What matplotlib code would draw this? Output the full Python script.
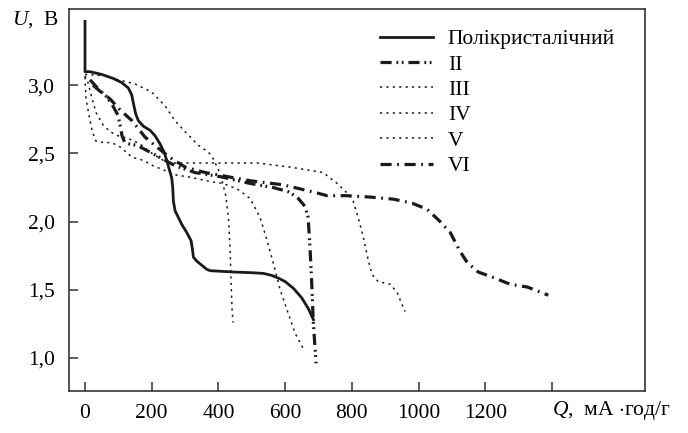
import matplotlib
matplotlib.use("Agg")
import matplotlib.pyplot as plt
from matplotlib.ticker import FixedLocator, FixedFormatter

plt.rcParams['font.family'] = ['Liberation Serif', 'DejaVu Serif']
plt.rcParams['mathtext.fontset'] = 'custom'
plt.rcParams['mathtext.it'] = 'Liberation Serif:italic'
plt.rcParams['mathtext.rm'] = 'Liberation Serif'
plt.rcParams['lines.scale_dashes'] = False

# ---- data (Q in mA*h/g, U in V) ----
poly_q = [0, 0, 15, 50, 85, 110, 130, 140, 145, 152, 160, 175, 195, 210, 225, 237, 245, 253, 260, 263, 265,
          270, 280, 290, 305, 318, 322, 325, 335, 350, 365, 375, 445, 500, 535, 560, 580, 600, 625, 650, 670, 685]
poly_u = [3.47, 3.10, 3.10, 3.08, 3.05, 3.02, 2.98, 2.93, 2.87, 2.79, 2.74, 2.70, 2.67, 2.63, 2.57, 2.51, 2.45,
          2.38, 2.32, 2.25, 2.15, 2.08, 2.03, 1.98, 1.92, 1.86, 1.80, 1.74, 1.71, 1.68, 1.65, 1.64, 1.63, 1.625,
          1.62, 1.605, 1.585, 1.56, 1.51, 1.44, 1.36, 1.28]

ii_q = [24, 63, 81, 99, 105, 111, 120, 156, 210, 270, 330, 405, 495, 564, 609, 636, 660, 669, 675, 681, 684, 690, 693]
ii_u = [3.00, 2.92, 2.86, 2.78, 2.71, 2.63, 2.575, 2.56, 2.49, 2.41, 2.36, 2.33, 2.28, 2.25, 2.22, 2.18, 2.11,
        2.03, 1.79, 1.48, 1.28, 1.06, 0.96]

iii_q = [0, 60, 84, 150, 200, 240, 270, 300, 340, 370, 385, 400, 412, 422, 430, 435, 438, 441, 444]
iii_u = [3.08, 3.07, 3.05, 3.01, 2.95, 2.85, 2.74, 2.66, 2.56, 2.51, 2.46, 2.38, 2.29, 2.19, 2.03, 1.80, 1.55,
         1.35, 1.26]

iv_q = [0, 9, 18, 33, 54, 75, 99, 130, 165, 195, 234, 264, 366, 516, 615, 714, 756, 790, 804, 819, 834, 849,
        861, 879, 915, 936, 954, 960]
iv_u = [3.07, 3.02, 2.93, 2.80, 2.71, 2.66, 2.63, 2.61, 2.57, 2.51, 2.45, 2.43, 2.43, 2.43, 2.40, 2.36, 2.28,
        2.20, 2.15, 2.03, 1.89, 1.72, 1.61, 1.56, 1.54, 1.48, 1.37, 1.34]

v_q = [0, 3, 12, 22, 33, 55, 80, 111, 126, 144, 174, 204, 234, 276, 306, 384, 414, 456, 495, 525, 546, 564,
       585, 606, 630, 654]
v_u = [3.06, 2.90, 2.78, 2.66, 2.59, 2.58, 2.58, 2.54, 2.50, 2.47, 2.45, 2.41, 2.38, 2.34, 2.33, 2.29, 2.28,
       2.24, 2.17, 2.03, 1.86, 1.70, 1.50, 1.35, 1.18, 1.07]

vi_q = [15, 45, 75, 105, 141, 180, 219, 255, 300, 360, 495, 594, 696, 726, 786, 855, 924, 981, 1026, 1065,
        1095, 1125, 1146, 1179, 1224, 1275, 1326, 1389]
vi_u = [3.04, 2.96, 2.90, 2.82, 2.74, 2.62, 2.54, 2.47, 2.40, 2.36, 2.30, 2.27, 2.21, 2.19, 2.19, 2.18, 2.165,
        2.135, 2.09, 2.00, 1.92, 1.78, 1.70, 1.63, 1.59, 1.54, 1.52, 1.46]

labels = ["Полікристалічний", "II", "III", "IV", "V", "VI"]
x_ticks = [0, 200, 400, 600, 800, 1000, 1200, 1400]
x_tick_labels = ["0", "200", "400", "600", "800", "1000", "1200", ""]
y_ticks = [1.0, 1.5, 2.0, 2.5, 3.0]
y_tick_labels = ["1,0", "1,5", "2,0", "2,5", "3,0"]

# ---- figure ----
fig = plt.figure(figsize=(6.88, 4.33), dpi=100)
ax = fig.add_axes([69/688, 1 - 391/433, (645 - 69)/688, (391 - 9)/433])

col = '#1a1a1a'
ax.plot(poly_q, poly_u, color=col, lw=2.0, solid_joinstyle='round', label=labels[0])
ax.plot(ii_q, ii_u, color=col, lw=2.3, dashes=(8, 3.5, 1.3, 2.5, 1.3, 3.5), label=labels[1])
ax.plot(iii_q, iii_u, color=col, lw=1.1, dashes=(1.6, 3.0), label=labels[2])
ax.plot(iv_q, iv_u, color=col, lw=1.1, dashes=(1.6, 3.0), label=labels[3])
ax.plot(v_q, v_u, color=col, lw=1.1, dashes=(1.6, 3.0), label=labels[4])
ax.plot(vi_q, vi_u, color=col, lw=2.3, dashes=(8, 4, 1.3, 4), label=labels[5])

ax.set_xlim(-48, 1679)
ax.set_ylim(0.757, 3.56)

ax.xaxis.set_major_locator(FixedLocator(x_ticks))
ax.xaxis.set_major_formatter(FixedFormatter(x_tick_labels))
ax.yaxis.set_major_locator(FixedLocator(y_ticks))
ax.yaxis.set_major_formatter(FixedFormatter(y_tick_labels))
ax.tick_params(direction='in', length=6.5, width=1.1, color='#333333',
               labelsize=15.5, pad=10)
ax.tick_params(axis='x', pad=9)
for s in ax.spines.values():
    s.set_linewidth(1.2)
    s.set_color('#333333')

ax.text(1400, -(410 - 391) / 382, r"$Q$,  мА $\cdot$год/г", transform=ax.get_xaxis_transform(),
        ha='left', va='center', fontsize=15.5)
fig.text(12/688, 1 - 20/433, r"$U$,  В", ha='left', va='center', fontsize=15.5)

leg = ax.legend(loc='upper left', bbox_to_anchor=((380 - 69)/576, 1 - 20/382),
                frameon=False, fontsize=15.5, handlelength=2.45, handletextpad=0.7,
                labelspacing=0.25, borderaxespad=0, borderpad=0)

fig.savefig("out.png", dpi=100)
